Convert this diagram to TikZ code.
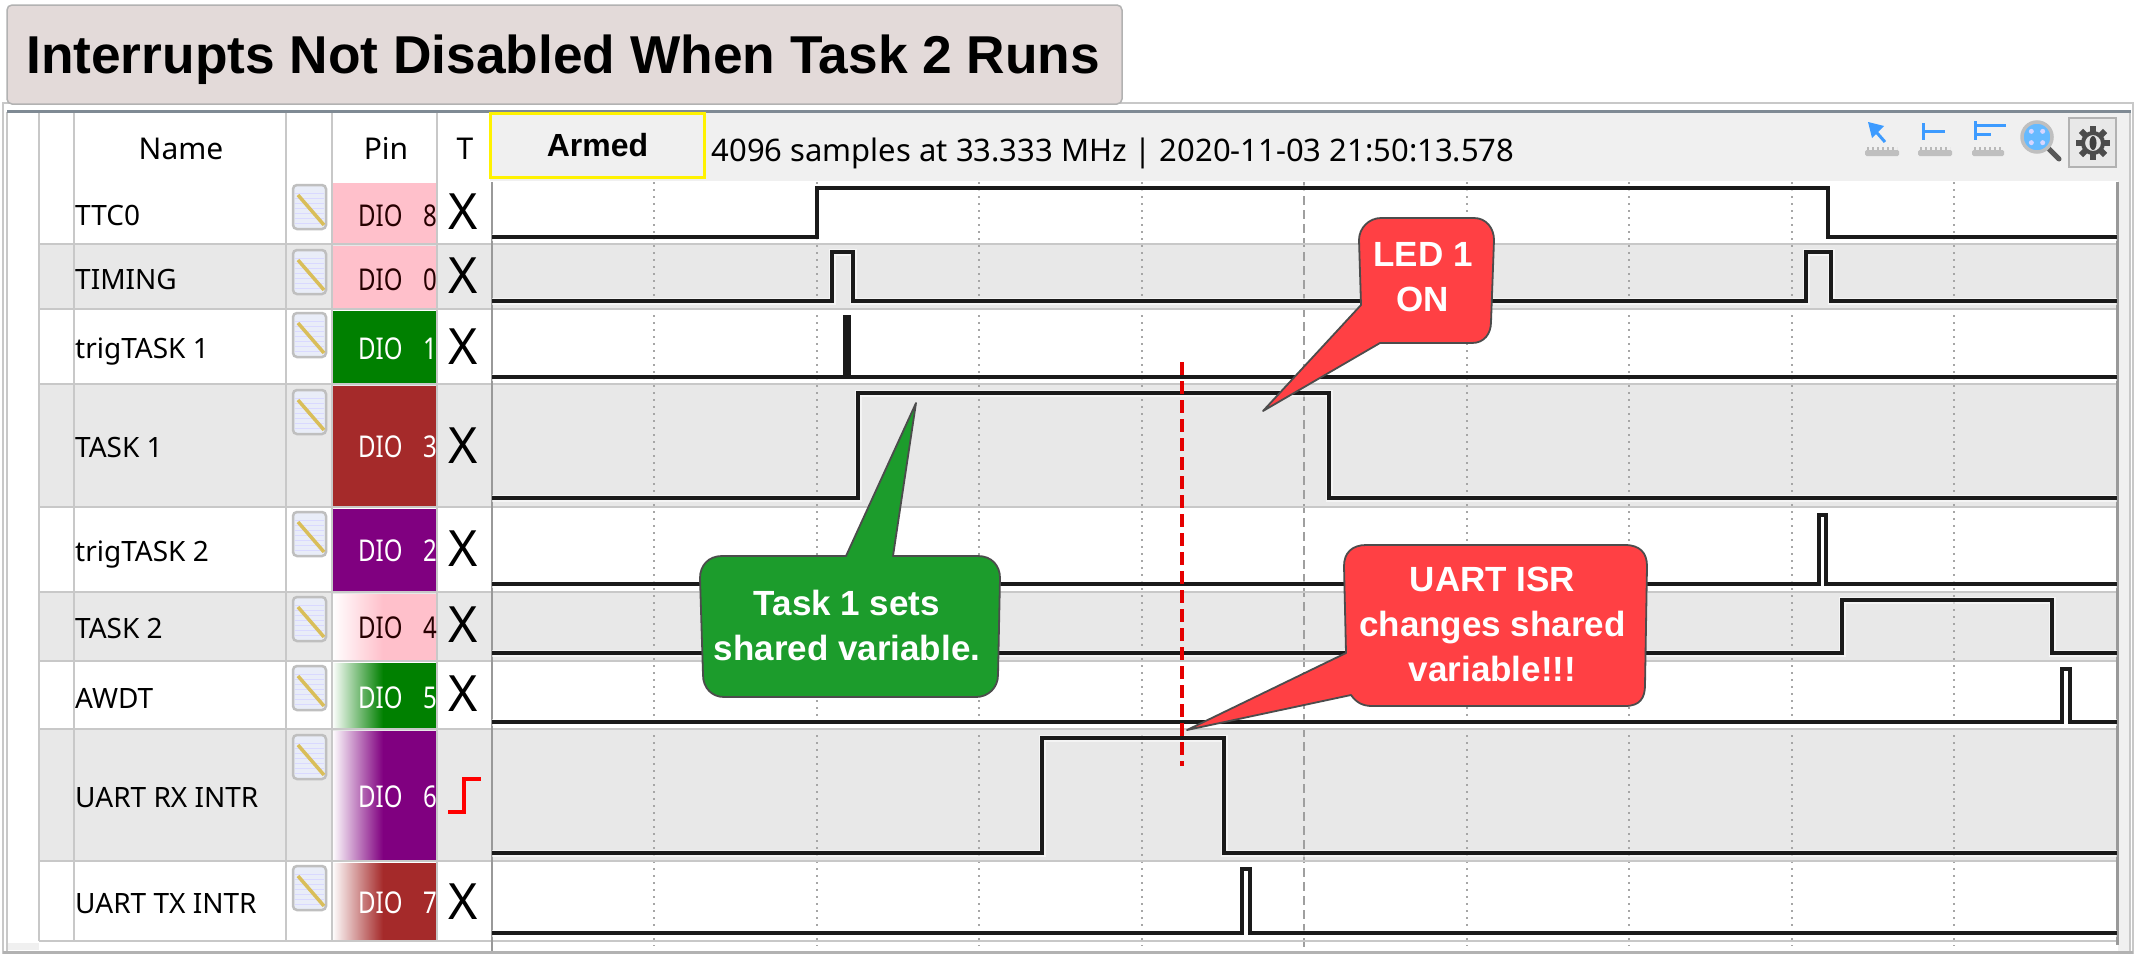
\documentclass[tikz,border=0pt]{standalone}
\usepackage{fontspec}
\setmainfont{Noto Sans}
\newfontfamily\arialf{Liberation Sans}
\usetikzlibrary{calc}
\definecolor{rowgray}{HTML}{E8E8E8}
\definecolor{sepgray}{HTML}{C8C8C8}
\definecolor{hdrgray}{HTML}{F0F0F0}
\definecolor{framedark}{HTML}{7F8A94}
\definecolor{tracec}{HTML}{1A1A1A}
\definecolor{pinpink}{HTML}{FFC0CB}
\definecolor{pingreen}{HTML}{008000}
\definecolor{pinbrown}{HTML}{A52A2A}
\definecolor{pinpurple}{HTML}{800080}
\definecolor{titlefill}{HTML}{E3DAD9}
\definecolor{calgreen}{HTML}{1C9C2C}
\definecolor{calred}{HTML}{FF4044}
\definecolor{iconblue}{HTML}{3D9BFF}
\definecolor{pencilc}{HTML}{D9BE5A}
\definecolor{padc}{HTML}{E9EDF8}
\tikzset{
  rowband/.style={fill=rowgray,draw=none},
  rowsep/.style={draw=sepgray,line width=2.5pt},
  colsep/.style={draw=sepgray,line width=2pt},
  trace/.style={draw=tracec,line width=4pt,miter limit=10,
     preaction={draw=white,line width=7pt,opacity=.55}},
  griddot/.style={draw=gray!70,line width=2pt,dash pattern=on 2pt off 5pt},
  griddash/.style={draw=gray!75,line width=2pt,dash pattern=on 9pt off 5pt},
  namelbl/.style={anchor=base west,inner sep=0pt,font=\fontsize{28}{30}\selectfont,text=black},
  hdrlbl/.style={anchor=base,inner sep=0pt,font=\fontsize{30}{32}\selectfont,text=black},
  xlbl/.style={inner sep=0pt,font=\fontsize{50}{52}\selectfont,text=black},
  diolbl/.style={inner sep=0pt,anchor=base west,font=\fontsize{30}{32}\selectfont},
  callout/.style={draw=black!70,line width=1.8pt,line join=round},
  caltext/.style={inner sep=0pt,align=center,text=white,font=\arialf\bfseries\fontsize{35}{45}\selectfont},
  rulerb/.style={fill=gray!50,draw=none,rounded corners=1.5pt},
  rulert/.style={draw=gray!55,line width=3pt,dash pattern=on 2pt off 3pt},
  notepad/.pic={
    \fill[padc,draw=gray!50,line width=2.5pt,rounded corners=4pt] (0,0) rectangle (33,44);
    \foreach \ly in {8,13,...,40}{\draw[blue!15,line width=.7pt] (2,\ly) -- (31,\ly);}
    \draw[draw=pencilc,line width=3.5pt] (5,10) -- (31,40);
  }
}
\newcommand{\pincell}[4]{% top, bottom, colour, gradient flag
  \ifnum#4=1
    \fill[left color=white,right color=#3] (332,#1) rectangle (383,#2);
    \fill[#3] (382.5,#1) rectangle (437,#2);
  \else
    \fill[#3] (332,#1) rectangle (437,#2);
  \fi
}
\newcommand{\diotext}[4]{% name suffix, baseline y, digit, colour
  \node[diolbl,text=#4] (dio#1) at (358,#2) {\scalebox{0.8}[1]{DIO}};
  \node[diolbl,text=#4] (dign#1) at (423,#2) {\scalebox{0.8}[1]{#3}};
}
\begin{document}
\begin{tikzpicture}[x=1pt,y=-1pt]
\useasboundingbox (0,0) rectangle (2141,959);
\fill[white] (0,0) rectangle (2141,959);

% outer frame
\draw[sepgray,line width=2pt] (3,103) rectangle (2133,953);
\fill[hdrgray] (2118,112) rectangle (2131,951);
\fill[white] (8,112) rectangle (2118,950);
\fill[hdrgray] (8,943) rectangle (39,950);
\draw[sepgray,line width=2pt] (7,112) -- (7,951);
\draw[gray!60,line width=3pt] (3,952.5) -- (2133,952.5);
\draw[sepgray,line width=2pt] (2130,112) -- (2130,951);
\draw[framedark,line width=2.5pt] (7,111.5) -- (2131,111.5);

% header strip
\fill[hdrgray] (490,113) rectangle (2118,181);

% row bands
\fill[rowband] (39,244) rectangle (2117,309);
\fill[rowband] (39,384) rectangle (2117,507);
\fill[rowband] (39,592) rectangle (2117,661);
\fill[rowband] (39,729) rectangle (2117,861);

% pin cells
\pincell{183}{244}{pinpink}{0}
\pincell{246}{309}{pinpink}{0}
\pincell{311}{384}{pingreen}{0}
\pincell{386}{507}{pinbrown}{0}
\pincell{509}{592}{pinpurple}{0}
\pincell{594}{661}{pinpink}{1}
\pincell{663}{729}{pingreen}{1}
\pincell{731}{861}{pinpurple}{1}
\pincell{863}{941}{pinbrown}{1}

% grid
\foreach \gx in {654,817,979,1142,1467,1629,1792,1954}{\draw[griddot] (\gx,182) -- (\gx,946);}
\draw[griddash] (1304,182) -- (1304,951);

% row separators
\foreach \sy in {244,309,384,507,592,661,729,861,941}{\draw[rowsep] (39,\sy) -- (2117,\sy);}

% column separators
\foreach \cx in {39,73.5}{\draw[colsep] (\cx,113) -- (\cx,941);}
\foreach \cx in {285.6,331.5,437}{\draw[colsep] (\cx,113) -- (\cx,941);}
\draw[gray!80,line width=2.5pt] (492,182) -- (492,951);
\draw[gray!80,line width=2.5pt] (2117.5,182) -- (2117.5,945);

% armed box
\node[draw=yellow,fill=hdrgray,line width=3.5pt,minimum width=214pt,minimum height=64pt,inner sep=0pt,
      font=\arialf\bfseries\fontsize{32}{34}\selectfont,text=black] (armed) at (597.5,145.5) {Armed};

% header labels
\node[hdrlbl] (hname) at (181,159) {Name};
\node[hdrlbl] (hpin) at (386,159) {Pin};
\node[hdrlbl] (ht) at (465,159) {T};
\node[inner sep=0pt,anchor=base west,font=\fontsize{31}{33}\selectfont,text=black] (info) at (711.5,161)
   {4096 samples at 33.333 MHz | 2020-11-03 21:50:13.578};

% note icons
\foreach \ny in {185,250,313,390,512,597,666,735,866}{\pic at (293,\ny) {notepad};}

% names
\node[namelbl] (n0) at (75,225) {TTC0};
\node[namelbl] (n1) at (75,289) {TIMING};
\node[namelbl] (n2) at (75,358) {trigTASK 1};
\node[namelbl] (n3) at (75,457) {TASK 1};
\node[namelbl] (n4) at (75,561) {trigTASK 2};
\node[namelbl] (n5) at (75,638) {TASK 2};
\node[namelbl] (n6) at (75,708) {AWDT};
\node[namelbl] (n7) at (75,807) {UART RX INTR};
\node[namelbl] (n8) at (75,913) {UART TX INTR};

% DIO labels
\diotext{a}{226}{8}{black!85!red}
\diotext{b}{290}{0}{black!85!red}
\diotext{c}{359}{1}{white}
\diotext{d}{457}{3}{white}
\diotext{e}{561}{2}{white}
\diotext{f}{638}{4}{black!85!red}
\diotext{g}{708}{5}{white}
\diotext{h}{807}{6}{white}
\diotext{i}{913}{7}{white}

% trigger marks
\node[xlbl] (x0) at (463,212) {X};
\node[xlbl] (x1) at (463,276) {X};
\node[xlbl] (x2) at (463,347) {X};
\node[xlbl] (x3) at (463,446) {X};
\node[xlbl] (x4) at (463,549) {X};
\node[xlbl] (x5) at (463,625) {X};
\node[xlbl] (x6) at (463,694) {X};
\node[xlbl] (x8) at (463,902) {X};
\draw[red,line width=4pt] (448,812) -- (464,812) -- (464,779) -- (481,779);

% traces
\draw[trace] (492,237) -- (817,237) -- (817,188) -- (1828,188) -- (1828,237) -- (2117,237);
\draw[trace] (492,301) -- (832,301) -- (832,252) -- (853,252) -- (853,301) -- (1806,301) -- (1806,252) -- (1831,252) -- (1831,301) -- (2117,301);
\draw[trace] (492,377) -- (2117,377);
\draw[tracec,line width=8pt] (847,315) -- (847,377);
\draw[trace] (492,498) -- (858,498) -- (858,393) -- (1329,393) -- (1329,498) -- (2117,498);
\draw[trace] (492,584) -- (1819,584) -- (1819,515) -- (1826,515) -- (1826,584) -- (2117,584);
\draw[trace] (492,653) -- (1842,653) -- (1842,600) -- (2052,600) -- (2052,653) -- (2117,653);
\draw[trace] (492,722) -- (2062,722) -- (2062,669) -- (2070,669) -- (2070,722) -- (2117,722);
\draw[trace] (492,853) -- (1042,853) -- (1042,738) -- (1224,738) -- (1224,853) -- (2117,853);
\draw[trace] (492,933) -- (1242,933) -- (1242,869) -- (1250,869) -- (1250,933) -- (2117,933);

% red cursor
\draw[red!90!black,line width=3.2pt,dash pattern=on 13pt off 6pt] (1182,362) -- (1182,766);

% callouts
\draw[callout,fill=calgreen]
  (846,556) -- (916,403) -- (893,556) -- (978,556)
  .. controls (992,556) and (1000,566) .. (1000,578) -- (998,675)
  .. controls (998,688) and (988,697) .. (976,697) -- (724,697)
  .. controls (712,697) and (703,688) .. (703,675) -- (700,578)
  .. controls (700,566) and (708,556) .. (722,556) -- cycle;
\node[caltext] (tgreen) at (847,625.5) {Task 1 sets\\shared variable.};

\draw[callout,fill=calred]
  (1361,305) -- (1263,411) -- (1380,343) -- (1472,343)
  .. controls (1484,343) and (1491,334) .. (1491,322) -- (1494,240)
  .. controls (1494,228) and (1486,218) .. (1474,218) -- (1381,218)
  .. controls (1369,218) and (1359,228) .. (1359,240) -- cycle;
\node[caltext] (tled) at (1423,277) {LED 1\\ON};

\draw[callout,fill=calred]
  (1346,653) -- (1187,730) -- (1351,695)
  .. controls (1356,702) and (1362,706) .. (1372,706) -- (1625,706)
  .. controls (1640,706) and (1645,698) .. (1645,685) -- (1647,566)
  .. controls (1647,553) and (1640,545) .. (1625,545) -- (1366,545)
  .. controls (1352,545) and (1344,553) .. (1344,566) -- cycle;
\node[caltext] (tuart) at (1492.5,624) {UART ISR\\changes shared\\variable!!!};

% toolbar icons
\fill[rulerb] (1865,150) rectangle (1899,156);
\draw[rulert] (1867,148) -- (1897,148);
\draw[iconblue,line width=3pt] (1885,142) -- (1871,126);
\fill[iconblue] (1868,122) -- (1884,126) -- (1872,138) -- cycle;
\fill[rulerb] (1918,150) rectangle (1952,156);
\draw[rulert] (1920,148) -- (1950,148);
\draw[iconblue,line width=3pt] (1923,123) -- (1923,140) (1923,131) -- (1945,131);
\fill[rulerb] (1972,150) rectangle (2004,156);
\draw[rulert] (1974,148) -- (2002,148);
\draw[iconblue,line width=3pt] (1975,121) -- (1975,140) (1975,125) -- (2006,125) (1975,134) -- (1991,134);
\draw[gray!70!black,line width=5pt,line cap=round] (2049,149) -- (2059,159);
\draw[gray!50,fill=blue!45!cyan!60,line width=3.5pt] (2037,137) circle[radius=15];
\foreach \ma in {45,135,225,315}{\fill[white!60!blue!40] (2037,137) ++(\ma:8) circle[radius=2.5];}
\fill[rowgray,draw=gray!60,line width=2pt] (2068.5,118) rectangle (2116,167);
\foreach \ga in {0,45,...,315}{
  \draw[gray!60!black,line width=6pt] (2093,143) ++(\ga:9) -- ++(\ga:8);
}
\draw[gray!60!black,line width=4pt,fill=gray!20] (2093,143) circle[radius=10];
\fill[gray!50!black] (2093,143) ellipse[x radius=3.5,y radius=7];

% title
\node[draw=gray!60,fill=titlefill,line width=1.5pt,rounded corners=5pt,minimum width=1115pt,minimum height=99pt,
      inner sep=0pt] (titlebox) at (564.5,54.5) {};
\node[inner sep=0pt,anchor=base west,text=black,font=\arialf\bfseries\fontsize{53.3}{55}\selectfont] (title) at (26,73)
   {Interrupts Not Disabled When Task 2 Runs};
\end{tikzpicture}
\end{document}
